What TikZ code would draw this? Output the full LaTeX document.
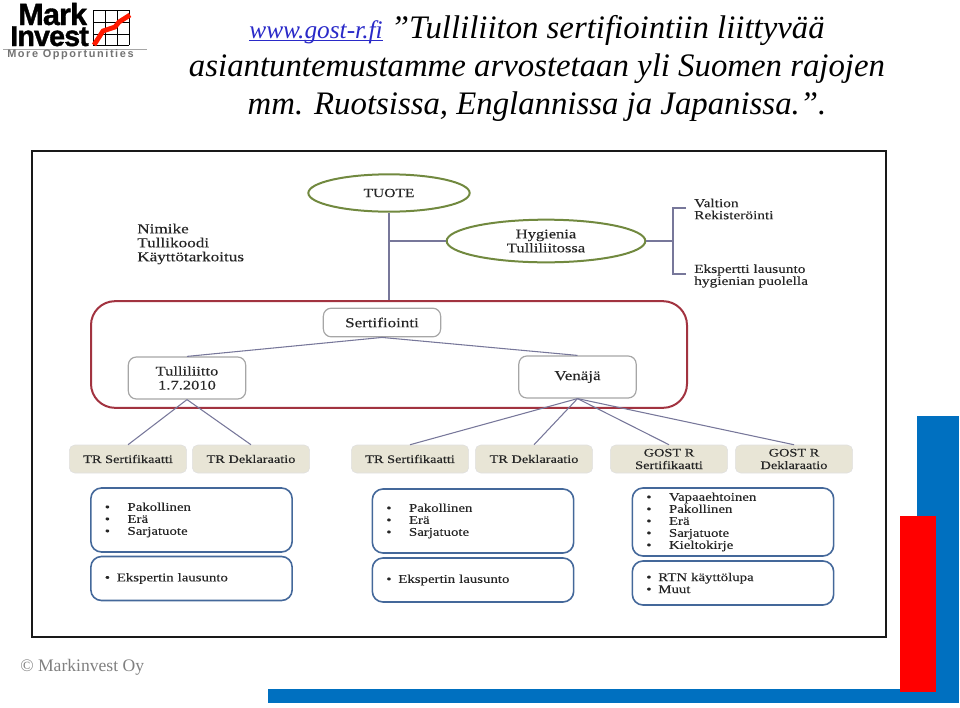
\documentclass[tikz,border=0pt]{standalone}
\usepackage{fontspec}
\usepackage{xcolor}
\usetikzlibrary{shapes.geometric}
\setmainfont{Liberation Serif}
\setsansfont{Liberation Sans}
\newfontfamily\picfont[FakeStretch=1.25, FakeBold=0.25]{Liberation Serif}
\newfontfamily\logofont[FakeBold=1.2, LetterSpace=-3]{Liberation Sans}
\newfontfamily\morefont[LetterSpace=14.6]{Liberation Sans}
\definecolor{linkblue}{HTML}{2A2AC8}
\definecolor{barblue}{HTML}{0070C0}
\definecolor{ovalgreen}{HTML}{71893F}
\definecolor{boxred}{HTML}{A23340}
\definecolor{listblue}{HTML}{44689A}
\definecolor{tanfill}{HTML}{E8E5D6}
\definecolor{linkgray}{HTML}{77779A}
\newcommand{\sized}[2]{\picfont\fontsize{#1}{#2}\selectfont}
\newcommand{\listitem}[2]{\makebox[#1][l]{\textbullet}#2}

\tikzset{
    oval/.style={draw=ovalgreen, line width=1.5pt, ellipse, text=black!85, align=center, inner sep=0pt},
    whitebox/.style={draw=black!35, line width=0.9pt, rounded corners=6pt, text=black!85, align=center, inner sep=0pt, minimum height=21.5pt, minimum width=88pt},
    tanbox/.style={draw=black!12, fill=tanfill, rounded corners=4pt, text=black!85, align=center, inner sep=0pt, minimum width=88pt, minimum height=21pt, font=\sized{8.6}{9.4}},
    listbox/.style={draw=listblue, line width=1.2pt, rounded corners=8pt, text=black!85, align=left, inner sep=0pt, text width=130pt, minimum width=151pt, font=\sized{8.9}{9}},
    plain/.style={text=black!85, align=left, inner sep=0pt, anchor=west},
    link/.style={draw=linkgray, line width=0.8pt},
}

\begin{document}
\begin{tikzpicture}[x=0.75pt, y=-0.75pt]
    \useasboundingbox (0, 0) rectangle (960, 707);

    % decoration
    \fill [barblue] (917, 416) rectangle (959, 703);
    \fill [barblue] (268, 689) rectangle (959, 703);
    \fill [red] (900, 516) rectangle (936, 692);

    % logo
    \node [inner sep=0pt, anchor=base west, font=\logofont\bfseries\fontsize{23}{23}\selectfont] (mark) at (18, 25) {Mark};
    \node [inner sep=0pt, anchor=base west, font=\logofont\bfseries\fontsize{21.5}{22}\selectfont] (invest) at (10, 46) {Invest};
    \foreach \x in {93, 105, 117, 129} \draw [black, line width=0.7pt] (\x, 10) -- (\x, 45);
    \foreach \y in {10, 22, 34, 45} \draw [black, line width=0.7pt] (93, \y) -- (129, \y);
    \draw [red!80!orange, line width=3.6pt] (94, 45) -- (103, 31) -- (115, 27) -- (119, 22) -- (130, 15);
    \draw [black!35] (3, 49.5) -- (147, 49.5);
    \node [plain, text=black!55, font=\morefont\bfseries\fontsize{8.2}{8}\selectfont] (more) at (7, 55) {More Opportunities};

    % title
    \node [align=center, inner sep=0pt, font=\itshape\fontsize{24.6}{28.5}\selectfont] (title) at (537, 68.5) {\textcolor{linkblue}{\fontsize{19}{19}\selectfont\underline{\smash{www.gost-r.fi}}} ”Tulliliiton sertifiointiin liittyvää\\ asiantuntemustamme arvostetaan yli Suomen rajojen\\ mm. Ruotsissa, Englannissa ja Japanissa.”.};

    % frame
    \draw [black!90, line width=1.5pt] (32, 151) rectangle (886, 637);

    \node [oval, minimum width=121pt, minimum height=28pt, font=\sized{9.3}{10.5}] (tuote) at (389, 193) {TUOTE};
    \node [oval, minimum width=149pt, minimum height=32pt, font=\sized{9.9}{10.5}] (hyg) at (546, 241) {Hygienia\\ Tulliliitossa};
    \node [plain, font=\sized{10.3}{10.5}] (nimike) at (137, 244) {Nimike\\ Tullikoodi\\ Käyttötarkoitus};
    \node [plain, font=\sized{9.2}{9}] (valtion) at (694, 209) {Valtion\\ Rekisteröinti};
    \node [plain, font=\sized{9.2}{9}] (ekspertti) at (694, 276) {Ekspertti lausunto\\ hygienian puolella};

    \node [draw=boxred, line width=1.5pt, rounded corners=18pt, minimum width=447pt, minimum height=80pt, inner sep=0pt] (sert) at (389, 354.5) {};
    \node [whitebox, font=\sized{10.2}{10.5}] (sertifiointi) at (382, 322.5) {Sertifiointi};
    \node [whitebox, minimum height=31.5pt, font=\sized{9.9}{10.5}] (tulli) at (187, 378) {Tulliliitto\\ 1.7.2010};
    \node [whitebox, minimum height=31.5pt, font=\sized{10.2}{10.5}] (venaja) at (577.5, 377) {Venäjä};

    \node [tanbox] (a) at (128, 459) {TR Sertifikaatti};
    \node [tanbox] (b) at (251, 459) {TR Deklaraatio};
    \node [tanbox] (c) at (410, 459) {TR Sertifikaatti};
    \node [tanbox] (d) at (534, 459) {TR Deklaraatio};
    \node [tanbox] (e) at (669, 459) {GOST R\\ Sertifikaatti};
    \node [tanbox] (f) at (794, 459) {GOST R\\ Deklaraatio};

    \node [listbox, minimum height=48pt] (p1) at (191.5, 520) {\listitem{17pt}{Pakollinen}\\ \listitem{17pt}{Erä}\\ \listitem{17pt}{Sarjatuote}};
    \node [listbox, minimum height=33pt] (q1) at (191.5, 578.5) {\listitem{9pt}{Ekspertin lausunto}};
    \node [listbox, minimum height=48pt] (p2) at (473, 521) {\listitem{17pt}{Pakollinen}\\ \listitem{17pt}{Erä}\\ \listitem{17pt}{Sarjatuote}};
    \node [listbox, minimum height=33pt] (q2) at (473, 580) {\listitem{9pt}{Ekspertin lausunto}};
    \node [listbox, minimum height=51pt] (p3) at (733, 522) {\listitem{17pt}{Vapaaehtoinen}\\ \listitem{17pt}{Pakollinen}\\ \listitem{17pt}{Erä}\\ \listitem{17pt}{Sarjatuote}\\ \listitem{17pt}{Kieltokirje}};
    \node [listbox, minimum height=33pt] (q3) at (733, 583) {\listitem{9pt}{RTN käyttölupa}\\ \listitem{9pt}{Muut}};

    \coordinate (branch) at (673, 241);
    \coordinate (upstub) at (686, 208);
    \coordinate (downstub) at (686, 274);

    \draw [link] (tuote.south) -- (tuote.south |- sert.north);
    \draw [link] (tuote.south |- hyg.west) -- (hyg.west);
    \draw [link] (hyg.east) -- (branch);
    \draw [link] (upstub) -| (branch) |- (downstub);
    \draw [link] (sertifiointi.south) -- (tulli.north);
    \draw [link] (sertifiointi.south) -- (venaja.north);
    \draw [link] (tulli.south) -- (a.north);
    \draw [link] (tulli.south) -- (b.north);
    \draw [link] (venaja.south) -- (c.north);
    \draw [link] (venaja.south) -- (d.north);
    \draw [link] (venaja.south) -- (e.north);
    \draw [link] (venaja.south) -- (f.north);

    % footer
    \node [plain, text=black!50, font=\fontsize{13.2}{14}\selectfont] (copy) at (20, 667) {© Markinvest Oy};
\end{tikzpicture}
\end{document}
